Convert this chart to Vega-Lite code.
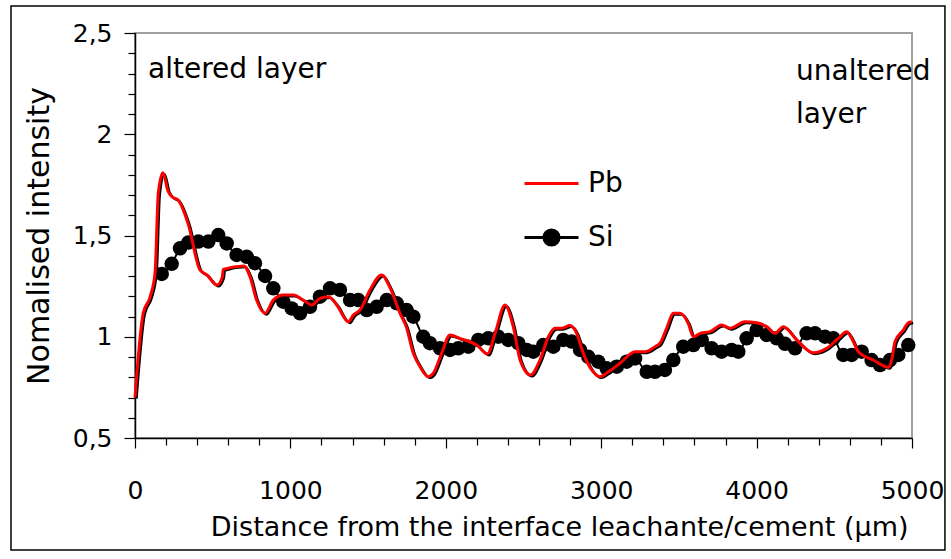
{
  "$schema": "https://vega.github.io/schema/vega-lite/v6.json",
  "width": 777,
  "height": 405,
  "autosize": "none",
  "padding": {"left": 135, "top": 33, "right": 39, "bottom": 121},
  "background": "white",
  "config": {
    "font": "DejaVu Sans",
    "view": {"stroke": "#a0a0a0", "strokeWidth": 2},
    "axis": {
      "domainColor": "black",
      "domainWidth": 1.5,
      "tickColor": "black",
      "tickWidth": 1.2,
      "labelColor": "black",
      "labelFont": "DejaVu Sans",
      "labelOverlap": false,
      "labelFlush": false,
      "titleFont": "DejaVu Sans",
      "titleColor": "black",
      "titleFontWeight": "normal",
      "grid": false
    }
  },
  "datasets": {
    "profiles": [
      {"series": "Pb", "distance": 0, "intensity": 0.70},
      {"series": "Pb", "distance": 53, "intensity": 1.117},
      {"series": "Pb", "distance": 97, "intensity": 1.196},
      {"series": "Pb", "distance": 129, "intensity": 1.315},
      {"series": "Pb", "distance": 150, "intensity": 1.71},
      {"series": "Pb", "distance": 180, "intensity": 1.81},
      {"series": "Pb", "distance": 212, "intensity": 1.72},
      {"series": "Pb", "distance": 240, "intensity": 1.69},
      {"series": "Pb", "distance": 277, "intensity": 1.675},
      {"series": "Pb", "distance": 341, "intensity": 1.56},
      {"series": "Pb", "distance": 418, "intensity": 1.33},
      {"series": "Pb", "distance": 463, "intensity": 1.305},
      {"series": "Pb", "distance": 528, "intensity": 1.255},
      {"series": "Pb", "distance": 562, "intensity": 1.295},
      {"series": "Pb", "distance": 568, "intensity": 1.333},
      {"series": "Pb", "distance": 700, "intensity": 1.35},
      {"series": "Pb", "distance": 740, "intensity": 1.297},
      {"series": "Pb", "distance": 783, "intensity": 1.18},
      {"series": "Pb", "distance": 837, "intensity": 1.116},
      {"series": "Pb", "distance": 890, "intensity": 1.181},
      {"series": "Pb", "distance": 954, "intensity": 1.206},
      {"series": "Pb", "distance": 1019, "intensity": 1.206},
      {"series": "Pb", "distance": 1083, "intensity": 1.181},
      {"series": "Pb", "distance": 1137, "intensity": 1.157},
      {"series": "Pb", "distance": 1190, "intensity": 1.19},
      {"series": "Pb", "distance": 1244, "intensity": 1.198},
      {"series": "Pb", "distance": 1298, "intensity": 1.157},
      {"series": "Pb", "distance": 1373, "intensity": 1.074},
      {"series": "Pb", "distance": 1405, "intensity": 1.107},
      {"series": "Pb", "distance": 1448, "intensity": 1.132},
      {"series": "Pb", "distance": 1512, "intensity": 1.231},
      {"series": "Pb", "distance": 1587, "intensity": 1.305},
      {"series": "Pb", "distance": 1645, "intensity": 1.235},
      {"series": "Pb", "distance": 1705, "intensity": 1.116},
      {"series": "Pb", "distance": 1745, "intensity": 1.05},
      {"series": "Pb", "distance": 1791, "intensity": 0.918},
      {"series": "Pb", "distance": 1834, "intensity": 0.852},
      {"series": "Pb", "distance": 1887, "intensity": 0.803},
      {"series": "Pb", "distance": 1920, "intensity": 0.82},
      {"series": "Pb", "distance": 1973, "intensity": 0.918},
      {"series": "Pb", "distance": 2027, "intensity": 1.009},
      {"series": "Pb", "distance": 2091, "intensity": 0.992},
      {"series": "Pb", "distance": 2199, "intensity": 0.959},
      {"series": "Pb", "distance": 2268, "intensity": 0.915},
      {"series": "Pb", "distance": 2317, "intensity": 1.017},
      {"series": "Pb", "distance": 2381, "intensity": 1.157},
      {"series": "Pb", "distance": 2434, "intensity": 1.05},
      {"series": "Pb", "distance": 2478, "intensity": 0.885},
      {"series": "Pb", "distance": 2545, "intensity": 0.811},
      {"series": "Pb", "distance": 2606, "intensity": 0.885},
      {"series": "Pb", "distance": 2660, "intensity": 1.0},
      {"series": "Pb", "distance": 2703, "intensity": 1.042},
      {"series": "Pb", "distance": 2745, "intensity": 1.042},
      {"series": "Pb", "distance": 2799, "intensity": 1.055},
      {"series": "Pb", "distance": 2842, "intensity": 1.017},
      {"series": "Pb", "distance": 2885, "intensity": 0.918},
      {"series": "Pb", "distance": 2939, "intensity": 0.836},
      {"series": "Pb", "distance": 2992, "intensity": 0.803},
      {"series": "Pb", "distance": 3046, "intensity": 0.827},
      {"series": "Pb", "distance": 3121, "intensity": 0.869},
      {"series": "Pb", "distance": 3218, "intensity": 0.926},
      {"series": "Pb", "distance": 3282, "intensity": 0.926},
      {"series": "Pb", "distance": 3346, "intensity": 0.951},
      {"series": "Pb", "distance": 3378, "intensity": 0.968},
      {"series": "Pb", "distance": 3421, "intensity": 1.042},
      {"series": "Pb", "distance": 3464, "intensity": 1.116},
      {"series": "Pb", "distance": 3507, "intensity": 1.116},
      {"series": "Pb", "distance": 3560, "intensity": 1.066},
      {"series": "Pb", "distance": 3593, "intensity": 1.0},
      {"series": "Pb", "distance": 3636, "intensity": 1.017},
      {"series": "Pb", "distance": 3700, "intensity": 1.025},
      {"series": "Pb", "distance": 3775, "intensity": 1.058},
      {"series": "Pb", "distance": 3829, "intensity": 1.042},
      {"series": "Pb", "distance": 3925, "intensity": 1.074},
      {"series": "Pb", "distance": 4000, "intensity": 1.069},
      {"series": "Pb", "distance": 4065, "intensity": 1.05},
      {"series": "Pb", "distance": 4118, "intensity": 1.017},
      {"series": "Pb", "distance": 4172, "intensity": 1.05},
      {"series": "Pb", "distance": 4258, "intensity": 0.984},
      {"series": "Pb", "distance": 4365, "intensity": 0.921},
      {"series": "Pb", "distance": 4451, "intensity": 0.943},
      {"series": "Pb", "distance": 4526, "intensity": 0.992},
      {"series": "Pb", "distance": 4580, "intensity": 1.025},
      {"series": "Pb", "distance": 4612, "intensity": 0.992},
      {"series": "Pb", "distance": 4655, "intensity": 0.926},
      {"series": "Pb", "distance": 4751, "intensity": 0.885},
      {"series": "Pb", "distance": 4848, "intensity": 0.849},
      {"series": "Pb", "distance": 4869, "intensity": 0.885},
      {"series": "Pb", "distance": 4891, "intensity": 0.976},
      {"series": "Pb", "distance": 4944, "intensity": 1.033},
      {"series": "Pb", "distance": 4976, "intensity": 1.069},
      {"series": "Pb", "distance": 4998, "intensity": 1.074},
      {"series": "Si", "distance": 172, "intensity": 1.31},
      {"series": "Si", "distance": 236, "intensity": 1.36},
      {"series": "Si", "distance": 290, "intensity": 1.437},
      {"series": "Si", "distance": 343, "intensity": 1.465},
      {"series": "Si", "distance": 408, "intensity": 1.47},
      {"series": "Si", "distance": 472, "intensity": 1.47},
      {"series": "Si", "distance": 536, "intensity": 1.502},
      {"series": "Si", "distance": 590, "intensity": 1.461},
      {"series": "Si", "distance": 654, "intensity": 1.404},
      {"series": "Si", "distance": 719, "intensity": 1.395},
      {"series": "Si", "distance": 772, "intensity": 1.363},
      {"series": "Si", "distance": 837, "intensity": 1.30},
      {"series": "Si", "distance": 890, "intensity": 1.239},
      {"series": "Si", "distance": 954, "intensity": 1.173},
      {"series": "Si", "distance": 1008, "intensity": 1.14},
      {"series": "Si", "distance": 1062, "intensity": 1.116},
      {"series": "Si", "distance": 1126, "intensity": 1.148},
      {"series": "Si", "distance": 1190, "intensity": 1.198},
      {"series": "Si", "distance": 1255, "intensity": 1.239},
      {"series": "Si", "distance": 1319, "intensity": 1.231},
      {"series": "Si", "distance": 1384, "intensity": 1.181},
      {"series": "Si", "distance": 1437, "intensity": 1.181},
      {"series": "Si", "distance": 1491, "intensity": 1.132},
      {"series": "Si", "distance": 1555, "intensity": 1.148},
      {"series": "Si", "distance": 1620, "intensity": 1.181},
      {"series": "Si", "distance": 1684, "intensity": 1.165},
      {"series": "Si", "distance": 1748, "intensity": 1.132},
      {"series": "Si", "distance": 1791, "intensity": 1.099},
      {"series": "Si", "distance": 1855, "intensity": 1.0},
      {"series": "Si", "distance": 1898, "intensity": 0.968},
      {"series": "Si", "distance": 1963, "intensity": 0.943},
      {"series": "Si", "distance": 2027, "intensity": 0.935},
      {"series": "Si", "distance": 2080, "intensity": 0.943},
      {"series": "Si", "distance": 2145, "intensity": 0.951},
      {"series": "Si", "distance": 2209, "intensity": 0.984},
      {"series": "Si", "distance": 2273, "intensity": 0.992},
      {"series": "Si", "distance": 2338, "intensity": 1.0},
      {"series": "Si", "distance": 2402, "intensity": 0.984},
      {"series": "Si", "distance": 2467, "intensity": 0.968},
      {"series": "Si", "distance": 2521, "intensity": 0.935},
      {"series": "Si", "distance": 2563, "intensity": 0.926},
      {"series": "Si", "distance": 2627, "intensity": 0.959},
      {"series": "Si", "distance": 2692, "intensity": 0.951},
      {"series": "Si", "distance": 2756, "intensity": 0.984},
      {"series": "Si", "distance": 2810, "intensity": 0.976},
      {"series": "Si", "distance": 2864, "intensity": 0.935},
      {"series": "Si", "distance": 2917, "intensity": 0.901},
      {"series": "Si", "distance": 2981, "intensity": 0.877},
      {"series": "Si", "distance": 3035, "intensity": 0.844},
      {"series": "Si", "distance": 3100, "intensity": 0.852},
      {"series": "Si", "distance": 3164, "intensity": 0.877},
      {"series": "Si", "distance": 3218, "intensity": 0.893},
      {"series": "Si", "distance": 3293, "intensity": 0.827},
      {"series": "Si", "distance": 3346, "intensity": 0.827},
      {"series": "Si", "distance": 3410, "intensity": 0.836},
      {"series": "Si", "distance": 3464, "intensity": 0.885},
      {"series": "Si", "distance": 3528, "intensity": 0.951},
      {"series": "Si", "distance": 3593, "intensity": 0.959},
      {"series": "Si", "distance": 3647, "intensity": 0.984},
      {"series": "Si", "distance": 3711, "intensity": 0.943},
      {"series": "Si", "distance": 3775, "intensity": 0.926},
      {"series": "Si", "distance": 3839, "intensity": 0.935},
      {"series": "Si", "distance": 3882, "intensity": 0.926},
      {"series": "Si", "distance": 3936, "intensity": 0.992},
      {"series": "Si", "distance": 4000, "intensity": 1.033},
      {"series": "Si", "distance": 4065, "intensity": 1.009},
      {"series": "Si", "distance": 4129, "intensity": 0.992},
      {"series": "Si", "distance": 4183, "intensity": 0.965},
      {"series": "Si", "distance": 4247, "intensity": 0.943},
      {"series": "Si", "distance": 4322, "intensity": 1.017},
      {"series": "Si", "distance": 4376, "intensity": 1.017},
      {"series": "Si", "distance": 4440, "intensity": 1.0},
      {"series": "Si", "distance": 4494, "intensity": 0.992},
      {"series": "Si", "distance": 4558, "intensity": 0.91},
      {"series": "Si", "distance": 4612, "intensity": 0.91},
      {"series": "Si", "distance": 4676, "intensity": 0.926},
      {"series": "Si", "distance": 4740, "intensity": 0.885},
      {"series": "Si", "distance": 4794, "intensity": 0.86},
      {"series": "Si", "distance": 4858, "intensity": 0.885},
      {"series": "Si", "distance": 4912, "intensity": 0.91},
      {"series": "Si", "distance": 4976, "intensity": 0.959}
    ]
  },
  "layer": [
    {
      "data": {"name": "profiles"},
      "transform": [{"filter": "datum.series === 'Pb'"}],
      "mark": {"type": "line", "color": "black", "strokeWidth": 2.5, "interpolate": "monotone", "xOffset": 1.5, "yOffset": 1.2},
      "encoding": {
        "x": {
          "field": "distance",
          "type": "quantitative",
          "scale": {"domain": [0, 5000], "nice": false, "zero": false},
          "axis": {
            "title": "Distance from the interface leachante/cement (µm)",
            "titleFontSize": 27,
            "titlePadding": 11,
            "titleX": 773,
            "titleAnchor": "end",
            "titleAlign": "right",
            "values": [0, 200, 400, 600, 800, 1000, 1200, 1400, 1600, 1800, 2000, 2200, 2400, 2600, 2800, 3000, 3200, 3400, 3600, 3800, 4000, 4200, 4400, 4600, 4800, 5000],
            "tickCount": 100,
            "labelExpr": "datum.value % 1000 === 0 ? datum.label : ''",
            "format": "d",
            "labelFontSize": 25,
            "labelPadding": 30,
            "labelOverlap": false,
            "tickSize": {"condition": {"test": "datum.value % 1000 === 0", "value": 10}, "value": 7}
          }
        },
        "y": {
          "field": "intensity",
          "type": "quantitative",
          "scale": {"domain": [0.5, 2.5], "nice": false, "zero": false},
          "axis": {
            "title": "Nomalised intensity",
            "titleFontSize": 30,
            "titlePadding": 18,
            "values": [0.5, 0.6, 0.7, 0.8, 0.9, 1.0, 1.1, 1.2, 1.3, 1.4, 1.5, 1.6, 1.7, 1.8, 1.9, 2.0, 2.1, 2.2, 2.3, 2.4, 2.5],
            "tickCount": 100,
            "labelExpr": "abs(datum.value * 2 - round(datum.value * 2)) < 0.001 ? replace(format(datum.value, '~g'), '.', ',') : ''",
            "labelFontSize": 25,
            "labelPadding": 12,
            "labelOverlap": false,
            "tickSize": {"condition": {"test": "abs(datum.value * 2 - round(datum.value * 2)) < 0.001", "value": 11}, "value": 7}
          }
        },
        "order": {"field": "distance", "type": "quantitative"}
      }
    },
    {
      "data": {"name": "profiles"},
      "transform": [{"filter": "datum.series === 'Si'"}],
      "mark": {"type": "line", "color": "black", "strokeWidth": 2, "interpolate": "monotone"},
      "encoding": {
        "x": {"field": "distance", "type": "quantitative"},
        "y": {"field": "intensity", "type": "quantitative"},
        "order": {"field": "distance", "type": "quantitative"}
      }
    },
    {
      "data": {"name": "profiles"},
      "transform": [{"filter": "datum.series === 'Si'"}],
      "mark": {"type": "point", "filled": true, "size": 210, "opacity": 1},
      "encoding": {
        "x": {"field": "distance", "type": "quantitative"},
        "y": {"field": "intensity", "type": "quantitative"},
        "color": {
          "field": "series",
          "type": "nominal",
          "scale": {"domain": ["Pb", "Si"], "range": ["#ff0000", "#000000"]},
          "legend": {
            "title": null,
            "orient": "none",
            "legendX": 388,
            "legendY": 122,
            "symbolSize": 2916,
            "symbolStrokeWidth": 3,
            "labelFontSize": 28,
            "labelColor": "black",
            "labelOffset": 8,
            "rowPadding": 11
          }
        },
        "shape": {
          "field": "series",
          "type": "nominal",
          "condition": {"test": "datum.series === 'Si'", "value": "circle"},
          "scale": {"domain": ["Pb", "Si"], "range": ["stroke", "M-1,0L1,0M0.28,0A0.28,0.28,0,1,1,-0.28,0A0.28,0.28,0,1,1,0.28,0Z"]},
          "legend": {
            "title": null,
            "orient": "none",
            "legendX": 388,
            "legendY": 122,
            "symbolSize": 2916,
            "symbolStrokeWidth": 3,
            "labelFontSize": 28,
            "labelColor": "black",
            "labelOffset": 8,
            "rowPadding": 11
          }
        }
      }
    },
    {
      "data": {"name": "profiles"},
      "transform": [{"filter": "datum.series === 'Pb'"}],
      "mark": {"type": "line", "strokeWidth": 3, "interpolate": "monotone"},
      "encoding": {
        "x": {"field": "distance", "type": "quantitative"},
        "y": {"field": "intensity", "type": "quantitative"},
        "order": {"field": "distance", "type": "quantitative"},
        "color": {"field": "series", "type": "nominal", "legend": null}
      }
    },
    {
      "data": {"values": [{"note": "altered layer"}]},
      "mark": {"type": "text", "fontSize": 28, "align": "left", "baseline": "middle", "color": "black"},
      "encoding": {
        "text": {"field": "note"},
        "x": {"datum": 84, "type": "quantitative"},
        "y": {"datum": 2.317, "type": "quantitative"}
      }
    },
    {
      "data": {"values": [{"note": ["unaltered", "layer"]}]},
      "mark": {"type": "text", "fontSize": 28, "align": "left", "baseline": "middle", "lineHeight": 43, "color": "black"},
      "encoding": {
        "text": {"field": "note"},
        "x": {"datum": 4254, "type": "quantitative"},
        "y": {"datum": 2.307, "type": "quantitative"}
      }
    },
    {
      "data": {"values": [{"frame": "outline"}]},
      "mark": {"type": "rect", "fill": "transparent", "stroke": "black", "strokeWidth": 1.5, "clip": false},
      "encoding": {
        "x": {"datum": -798, "type": "quantitative"},
        "x2": {"datum": 5212},
        "y": {"datum": 2.633, "type": "quantitative"},
        "y2": {"datum": -0.053}
      }
    }
  ]
}
